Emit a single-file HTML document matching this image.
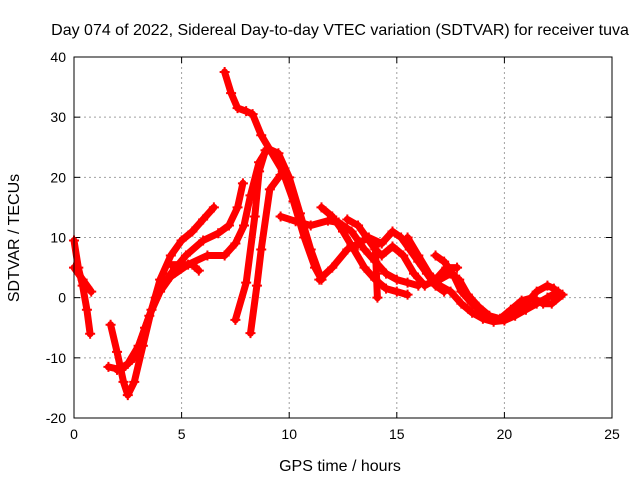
<!DOCTYPE html>
<html><head><meta charset="utf-8"><style>
body{margin:0;background:#fff}
svg{display:block;font-family:"Liberation Sans",sans-serif}
</style></head><body>
<svg id="chart" width="640" height="480">
<rect width="640" height="480" fill="#fff"/>
<text x="340" y="35" font-size="16" text-anchor="middle">Day 074 of 2022, Sidereal Day-to-day VTEC variation (SDTVAR) for receiver tuva</text>
<text x="340" y="471" font-size="16" text-anchor="middle">GPS time / hours</text>
<text transform="translate(19,238) rotate(-90)" font-size="16" text-anchor="middle">SDTVAR / TECUs</text>
<g id="grid"></g>
<g id="ticks"></g>
<g id="series"></g>
<rect x="74" y="57" width="538" height="361" fill="none" stroke="#000" stroke-width="1"/>
</svg>
<script>
const xTicks=[0,5,10,15,20,25];
const yTicks=[-20,-10,0,10,20,30,40];
const trackA=[[0,9.5],[0.2,5],[0.4,2],[0.6,-2],[0.75,-6]];
const trackA2=[[0,5],[0.4,3],[0.8,1]];
const trackB=[[1.7,-4.5],[2,-9],[2.3,-14],[2.5,-16.2],[2.8,-14],[3.2,-8],[3.6,-2],[4,3],[4.5,7],[5,9.5],[5.5,11],[6,13],[6.5,15]];
const trackC=[[1.6,-11.5],[2.2,-12],[2.8,-10],[3.3,-5],[3.8,0],[4.5,4],[5.2,7],[6,9.5],[6.7,10.7],[7.2,12],[7.6,15],[7.85,19]];
const trackD=[[2,-12],[2.5,-11],[3,-8],[3.5,-3],[4,1],[4.5,3.5],[5.3,5.5],[6.2,7],[7,7],[7.5,9],[7.9,12],[8.2,17],[8.6,22.5],[9,24.8],[9.5,24],[10,20],[10.5,14],[11,8],[11.5,3]];
const trackD2=[[4.5,5.5],[5.5,5.5],[5.8,4.5]];
const trackE=[[7.5,-3.7],[8,2.5],[8.4,13.5],[8.6,21],[8.9,24.5]];
const trackF=[[8.2,-5.9],[8.5,2],[8.7,8],[9.1,18],[9.6,20.4],[9.9,20.2]];
const trackG=[[7,37.5],[7.3,34],[7.6,31.5],[8,31],[8.3,30.5],[8.7,27],[9.2,24],[9.7,21],[10.2,16],[10.7,10],[11.2,5],[11.5,3]];
const trackH=[[9.6,13.5],[10.3,12.7],[11,12],[11.8,12.8],[12.3,12.5],[12.9,11],[13.5,8],[14,6],[14.5,4],[15,3],[15.5,2.5],[16,2]];
const trackI=[[11.4,3],[12,5],[12.7,8],[13.2,9],[13.7,10],[14.3,9],[14.8,11],[15.2,10],[15.6,8],[16,6],[16.4,4],[16.8,2],[17.2,1]];
const trackJ=[[11.5,15],[12,13.5],[12.5,11],[13,8],[13.5,5],[14,3],[14.5,1.5],[15,1],[15.5,0.5]];
const trackK=[[12.7,13],[13.2,12],[13.6,10],[14,8],[14.3,7],[14.8,8.5],[15.3,7],[15.8,4],[16.3,2],[16.8,3],[17.3,5],[17.8,5]];
const trackL=[[14,8.5],[14.05,4],[14.1,0]];
const trackM=[[15.5,10],[16,7],[16.5,4],[17,2],[17.5,1],[18,-1],[18.5,-2.5],[19,-3.5],[19.5,-4],[20,-3.8],[20.5,-3],[21,-2],[21.5,-1],[22,0],[22.5,1]];
const trackN=[[16.8,7],[17.2,6],[17.6,4],[18,1],[18.5,-1],[19,-2.5],[19.5,-3.5],[20,-3.5],[20.5,-2.5],[21,-1],[21.5,1],[22,2],[22.3,1.5]];
const trackO=[[17,3],[17.5,4],[17.9,3],[18.3,0.5],[18.8,-1.5],[19.3,-3],[19.8,-3.5],[20.3,-2],[20.8,-0.5],[21.3,0],[21.8,-1],[22.2,-1],[22.7,0.5]];
const tracks=[trackA,trackA2,trackB,trackC,trackD,trackD2,trackE,trackF,trackG,trackH,trackI,trackJ,trackK,trackL,trackM,trackN,trackO];

const X0=74,X1=612,Y0=418,Y1=57;
function sx(v){return X0+(v-0)/(25-0)*(X1-X0);}
function sy(v){return Y0-(v+20)/(60)*(Y0-Y1);}
const NS='http://www.w3.org/2000/svg';
function mk(tag,attrs,parent){const e=document.createElementNS(NS,tag);for(const k in attrs)e.setAttribute(k,attrs[k]);parent.appendChild(e);return e;}
const grid=document.getElementById('grid'),ticks=document.getElementById('ticks'),series=document.getElementById('series');
xTicks.forEach(t=>{
  const x=sx(t);
  if(t>0&&t<25){const g=mk('line',{x1:x,x2:x,y1:Y1,y2:Y0,stroke:'#a0a0a0','stroke-dasharray':'2,3'},grid);
  
  }
  mk('line',{x1:x,x2:x,y1:Y0,y2:Y0-6,stroke:'#000'},ticks);
  mk('line',{x1:x,x2:x,y1:Y1,y2:Y1+6,stroke:'#000'},ticks);
  const tl=mk('text',{x:x,y:Y0+21,'font-size':14,'text-anchor':'middle'},ticks);
  tl.textContent=t;
  
  
});
yTicks.forEach(t=>{
  const y=sy(t);
  if(t>-20&&t<40){const g=mk('line',{x1:X0,x2:X1,y1:y,y2:y,stroke:'#a0a0a0','stroke-dasharray':'2,3'},grid);
  
  }
  mk('line',{x1:X0,x2:X0+6,y1:y,y2:y,stroke:'#000'},ticks);
  mk('line',{x1:X1,x2:X1-6,y1:y,y2:y,stroke:'#000'},ticks);
  const tl=mk('text',{x:X0-8,y:y+5,'font-size':14,'text-anchor':'end'},ticks);
  tl.textContent=t;
  
  
});
tracks.forEach((tr,i)=>{
  const d=tr.map((p,j)=>(j?'L':'M')+sx(p[0]).toFixed(1)+','+sy(p[1]).toFixed(1)).join(' ');
  const p=mk('path',{d:d,fill:'none',stroke:'#ff0000','stroke-width':7,'stroke-linejoin':'round','stroke-linecap':'round'},series);
  
  
  tr.forEach(pt=>{
    const x=sx(pt[0]),y=sy(pt[1]);
    const m=mk('path',{d:`M${x-5},${y}H${x+5}M${x},${y-5}V${y+5}`,stroke:'#ff0000','stroke-width':2},series);
    
    
  });
});
</script>
</body></html>
